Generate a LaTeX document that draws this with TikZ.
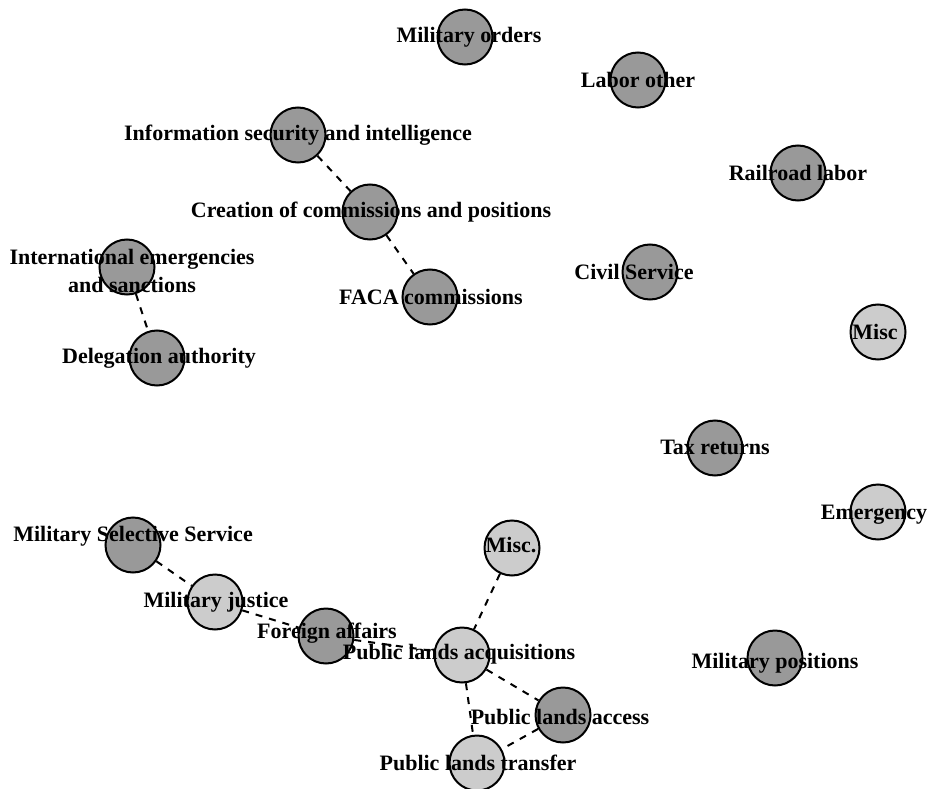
\documentclass[tikz,border=0pt]{standalone}
\usepackage{fontspec}
\setmainfont{Liberation Serif}
\begin{document}
\begin{tikzpicture}[x=1pt,y=-1pt,
  vtx/.style={circle,draw=black,line width=2pt,minimum size=55pt,inner sep=0pt},
  dark/.style={vtx,fill=black!40},
  light/.style={vtx,fill=black!20},
  lbl/.style={font=\fontsize{22}{28}\selectfont\bfseries,inner sep=0pt,align=center},
  edge/.style={line width=2pt,dash pattern=on 7pt off 7pt}]
\useasboundingbox (0,0) rectangle (929,789);
% vertices
\node[dark]  (milord)  at (465,37)  {};
\node[dark]  (labor)   at (638,80)  {};
\node[dark]  (infosec) at (298,135) {};
\node[dark]  (rail)    at (798,173) {};
\node[dark]  (creat)   at (370,212) {};
\node[dark]  (intl)    at (127,267) {};
\node[dark]  (faca)    at (430,297) {};
\node[dark]  (civil)   at (650,272) {};
\node[light] (misca)   at (878,332) {};
\node[dark]  (deleg)   at (157,358) {};
\node[dark]  (tax)     at (715,448) {};
\node[light] (emerg)   at (878,512) {};
\node[dark]  (mss)     at (133,545) {};
\node[light] (miscb)   at (512,548) {};
\node[light] (mjust)   at (215,602) {};
\node[dark]  (foreign) at (326,636) {};
\node[light] (pla)     at (462,655) {};
\node[dark]  (milpos)  at (775,658) {};
\node[dark]  (placc)   at (563,715) {};
\node[light] (pltr)    at (477,763) {};
% edges
\draw[edge] (infosec) -- (creat);
\draw[edge] (creat) -- (faca);
\draw[edge] (intl) -- (deleg);
\draw[edge] (mss) -- (mjust);
\draw[edge] (mjust) -- (foreign);
\draw[edge] (foreign) -- (pla);
\draw[edge] (miscb) -- (pla);
\draw[edge] (pla) -- (placc);
\draw[edge] (pla) -- (pltr);
\draw[edge] (placc) -- (pltr);
% labels
\node[lbl] (tmilord)  at (469,37)  {Military orders};
\node[lbl] (tlabor)   at (638,80)  {Labor other};
\node[lbl] (tinfosec) at (298,135) {Information security and intelligence};
\node[lbl] (trail)    at (798,173) {Railroad labor};
\node[lbl] (tcreat)   at (371,212) {Creation of commissions and positions};
\node[lbl] (tintl)    at (132,271) {International emergencies\\and sanctions};
\node[lbl] (tfaca)    at (431,297) {FACA commissions};
\node[lbl] (tcivil)   at (634,272) {Civil Service};
\node[lbl] (tmisca)   at (875,332) {Misc};
\node[lbl] (tdeleg)   at (159,358) {Delegation authority};
\node[lbl] (ttax)     at (715,447) {Tax returns};
\node[lbl] (temerg)   at (874,515) {Emergency};
\node[lbl] (tmss)     at (133,536) {Military Selective Service};
\node[lbl] (tmiscb)   at (511,545) {Misc.};
\node[lbl] (tmjust)   at (216,602) {Military justice};
\node[lbl] (tforeign) at (327,633) {Foreign affairs};
\node[lbl] (tpla)     at (459,654) {Public lands acquisitions};
\node[lbl] (tmilpos)  at (775,663) {Military positions};
\node[lbl] (tplacc)   at (560,717) {Public lands access};
\node[lbl] (tpltr)    at (478,763) {Public lands transfer};
\end{tikzpicture}
\end{document}
